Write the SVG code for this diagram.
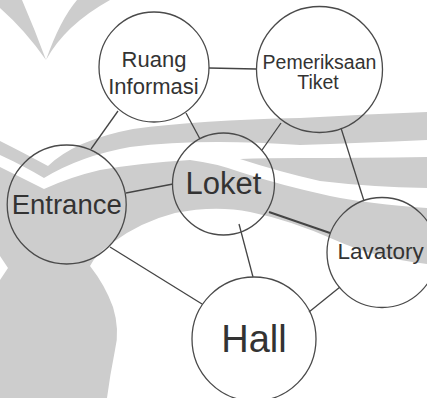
<svg xmlns="http://www.w3.org/2000/svg" width="427" height="398" viewBox="0 0 427 398">
  <style>
    .bg { fill: #cdcdcd; }
    .gap { fill: #ffffff; }
    .node circle { fill: none; stroke: #4a4a4a; stroke-width: 1.3; }
    .node text { font-family: "Liberation Sans", Arial, sans-serif; fill: #333333; text-anchor: middle; }
    #connectors line { stroke: #444444; stroke-width: 1.3; }
  </style>

  <!-- faint background emblem -->
  <g id="emblem">
    <path class="bg" d="M0,0 L22,0 Q35,30 46,60 Q25,30 0,8 Z"/>
    <path class="bg" d="M77,0 L110,0 Q65,25 46,60 Q60,20 77,0 Z"/>
    <path class="bg" d="M0,141 Q22,152 48,166 Q75,140 133,129 Q200,120 300,118 Q370,114 427,112
                        L427,264 Q375,258 335,240 Q290,220 250,212 Q215,205 175,213 Q140,222 112,243
                        Q95,255 90,266 Q105,285 113,307 Q120,330 115,350 Q110,375 107,398
                        L0,398 L0,280 L8,268 L0,256 Z"/>
    <path class="gap" d="M0,155 Q24,166 44,178 Q80,156 130,147 Q200,138 300,145 Q360,143 427,140
                         L427,157 Q360,158 300,158 Q265,158 240,159 Q280,172 320,181 Q370,187 427,188
                         L427,208 Q370,204 330,196 Q280,185 240,172 Q215,163 190,160
                         Q140,163 100,170 Q70,177 44,189 Q22,178 0,167 Z"/>
  </g>

  <g id="connectors">
    <line x1="209" y1="68" x2="256" y2="69"/>
    <line x1="118" y1="111" x2="91" y2="149"/>
    <line x1="186" y1="113" x2="200" y2="139"/>
    <line x1="281" y1="123" x2="262" y2="150"/>
    <line x1="341" y1="128" x2="364" y2="201"/>
    <line x1="126" y1="193" x2="173" y2="184"/>
    <line x1="269" y1="212" x2="330" y2="233" style="stroke-width:1.9"/>
    <line x1="239" y1="224" x2="253" y2="277"/>
    <line x1="110" y1="247" x2="202" y2="304"/>
    <line x1="340" y1="287" x2="309" y2="312"/>
  </g>

  <g id="ruang-informasi" class="node">
    <circle cx="154" cy="67" r="55"/>
    <text x="154" y="67" font-size="22">Ruang</text>
    <text x="153.5" y="94" font-size="22">Informasi</text>
  </g>

  <g id="pemeriksaan-tiket" class="node">
    <circle cx="319.5" cy="69.5" r="63"/>
    <text x="319.5" y="69" font-size="19.5">Pemeriksaan</text>
    <text x="318" y="89" font-size="19.5">Tiket</text>
  </g>

  <g id="entrance" class="node">
    <circle cx="66.7" cy="204.5" r="59.5"/>
    <text x="66.7" y="213.5" font-size="27.5">Entrance</text>
  </g>

  <g id="loket" class="node">
    <circle cx="223.5" cy="184" r="51"/>
    <text x="223.5" y="194" font-size="31">Loket</text>
  </g>

  <g id="lavatory" class="node">
    <circle cx="382" cy="252.5" r="55"/>
    <text x="380.7" y="258.5" font-size="22.5">Lavatory</text>
  </g>

  <g id="hall" class="node">
    <circle cx="254" cy="339" r="62"/>
    <text x="254" y="352" font-size="38">Hall</text>
  </g>
</svg>
